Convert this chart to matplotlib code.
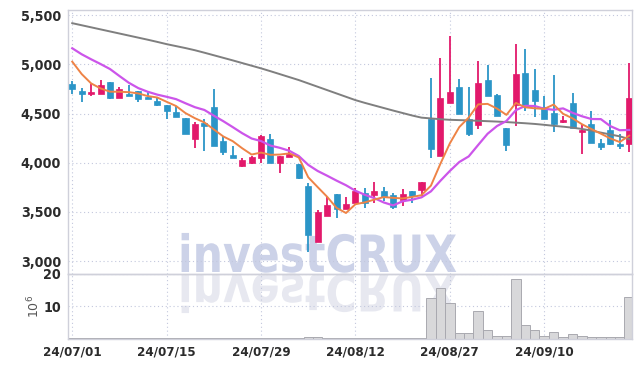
import numpy as np
import matplotlib
matplotlib.use('Agg')
import matplotlib.pyplot as plt
from matplotlib.patheffects import AbstractPathEffect
from matplotlib.transforms import Affine2D

# daily candles, trading days 24/07/01 .. 24/09/26
opens = [4800, 4730, 4700, 4700, 4820, 4660, 4695, 4730, 4670, 4625,
         4585, 4515, 4450, 4240, 4400, 4565, 4220, 4075, 3965, 3995,
         4050, 4240, 3995, 4060, 3985, 3760, 3190, 3455, 3685, 3525,
         3590, 3695, 3670, 3710, 3670, 3620, 3710, 3720, 4440, 4070,
         4610, 4765, 4440, 4385, 4840, 4685, 4355, 4585, 4910, 4735,
         4570, 4505, 4415, 4605, 4315, 4390, 4205, 4330, 4195, 4190]
highs = [4830, 4755, 4805, 4845, 4820, 4770, 4790, 4730, 4720, 4670,
         4585, 4575, 4450, 4410, 4440, 4745, 4270, 4170, 4050, 4065,
         4280, 4290, 4065, 4155, 3985, 3790, 3520, 3650, 3685, 3655,
         3745, 3740, 3800, 3755, 3695, 3735, 3710, 3805, 4865, 5060,
         5285, 4855, 4765, 5030, 4995, 4695, 4355, 5205, 5155, 4950,
         4675, 4890, 4475, 4710, 4395, 4525, 4245, 4430, 4295, 5010]
lows = [4700, 4615, 4680, 4700, 4650, 4660, 4680, 4615, 4650, 4580,
        4440, 4465, 4290, 4145, 4115, 4170, 4080, 4050, 3955, 3985,
        4000, 3995, 3900, 4060, 3835, 3095, 3190, 3455, 3440, 3525,
        3590, 3540, 3595, 3615, 3525, 3565, 3595, 3660, 4045, 4070,
        4610, 4495, 4275, 4345, 4680, 4475, 4115, 4370, 4525, 4460,
        4445, 4310, 4400, 4355, 4085, 4200, 4125, 4180, 4135, 4105]
closes = [4750, 4700, 4715, 4785, 4660, 4745, 4680, 4650, 4650, 4590,
          4525, 4465, 4290, 4390, 4375, 4170, 4110, 4050, 4030, 4055,
          4270, 3995, 4065, 4090, 3845, 3265, 3495, 3575, 3525, 3585,
          3710, 3590, 3715, 3655, 3545, 3680, 3665, 3805, 4140, 4655,
          4715, 4495, 4290, 4810, 4680, 4475, 4175, 4900, 4585, 4630,
          4445, 4395, 4430, 4355, 4330, 4200, 4160, 4190, 4170, 4655]

# moving averages as drawn (5, 10, 60 days)
ma5 = [5027, 4901, 4806, 4755, 4722, 4721, 4717, 4704, 4677, 4663,
       4619, 4576, 4504, 4452, 4409, 4338, 4267, 4219, 4147, 4083,
       4103, 4080, 4083, 4095, 4053, 3852, 3752, 3654, 3541, 3489,
       3578, 3597, 3625, 3651, 3643, 3637, 3652, 3670, 3767, 3989,
       4196, 4362, 4459, 4593, 4598, 4550, 4486, 4608, 4563, 4553,
       4547, 4591, 4497, 4451, 4391, 4342, 4295, 4247, 4210, 4275]
ma10 = [5163, 5102, 5051, 5003, 4952, 4881, 4812, 4758, 4721, 4692,
        4670, 4646, 4604, 4564, 4536, 4478, 4422, 4362, 4300, 4246,
        4220, 4174, 4151, 4121, 4068, 3978, 3916, 3868, 3818, 3771,
        3715, 3674, 3640, 3596, 3566, 3608, 3624, 3648, 3709, 3816,
        3916, 4007, 4064, 4180, 4294, 4373, 4424, 4534, 4578, 4576,
        4548, 4538, 4552, 4507, 4472, 4444, 4443, 4372, 4330, 4333]
ma60 = [5418, 5397, 5376, 5355, 5334, 5313, 5292, 5271, 5250, 5228,
        5205, 5185, 5165, 5143, 5118, 5092, 5066, 5040, 5013, 4986,
        4959, 4930, 4900, 4870, 4840, 4806, 4772, 4738, 4704, 4670,
        4636, 4608, 4582, 4556, 4530, 4505, 4480, 4458, 4450, 4442,
        4436, 4433, 4430, 4426, 4422, 4418, 4413, 4407, 4401, 4394,
        4385, 4375, 4366, 4356, 4343, 4326, 4306, 4287, 4268, 4240]

# volume, x 10^6
volume = [0.3, 0.3, 0.1, 0.15, 0.15, 0.1, 0.1, 0.1, 0.1, 0.1,
          0.1, 0.1, 0.15, 0.15, 0.2, 0.3, 0.15, 0.1, 0.1, 0.1,
          0.3, 0.15, 0.1, 0.1, 0.15, 0.4, 0.4, 0.15, 0.15, 0.1,
          0.1, 0.1, 0.1, 0.1, 0.1, 0.1, 0.1, 0.2, 12.4, 15.5,
          10.9, 1.6, 1.6, 8.4, 2.5, 0.8, 0.8, 18.3, 4.1, 2.5,
          0.9, 2.1, 0.5, 1.3, 0.8, 0.4, 0.4, 0.4, 0.4, 12.8]

tick_pos = [0, 10, 20, 30, 40, 50]
tick_labels = ['24/07/01', '24/07/15', '24/07/29', '24/08/12', '24/08/27', '24/09/10']
price_ticks = [3000, 3500, 4000, 4500, 5000, 5500]
vol_ticks = [10, 20]

UP = '#e2196b'
DOWN = '#2b95c7'
GRID = '#c3c8dd'
SPINE = '#cfd0da'
LBL = dict(family='DejaVu Sans', stretch='condensed', fontweight='bold')


class Squeeze(AbstractPathEffect):
    # narrows (and optionally mirrors) glyphs of a text about its baseline
    def __init__(self, sx=1.0, flip=False):
        super().__init__()
        self.sx = sx
        self.sy = -1.0 if flip else 1.0

    def draw_path(self, renderer, gc, tpath, affine, rgbFace=None):
        renderer.draw_path(gc, tpath, Affine2D().scale(self.sx, self.sy) + affine, rgbFace)


o = np.array(opens)
c = np.array(closes)
x = np.arange(len(o))
cols = [UP if cc >= oo else DOWN for oo, cc in zip(o, c)]

fig = plt.figure(figsize=(6.42, 3.67), dpi=100)
fig.patch.set_facecolor('white')

# watermark + reflection behind everything
fig.text(178 / 642, 1 - 272 / 367, 'investCRUX', fontsize=37, fontweight='bold',
         color='#ccd2e8', ha='left', va='baseline', zorder=-5,
         path_effects=[Squeeze(0.83)])
fig.text(178 / 642, 1 - 274 / 367, 'investCRUX', fontsize=37, fontweight='bold',
         color='#e7e8f0', ha='left', va='baseline', zorder=-5,
         path_effects=[Squeeze(0.83, flip=True)])

ax = fig.add_axes([68 / 642, 1 - 273.7 / 367, 564 / 642, 263.7 / 367])
axv = fig.add_axes([68 / 642, 1 - 338.5 / 367, 564 / 642, 64.8 / 367], sharex=ax)

for a in (ax, axv):
    a.set_facecolor('none')
    for s in a.spines.values():
        s.set_color(SPINE)
        s.set_linewidth(1.0)
    a.grid(True, color=GRID, linestyle=(0, (1, 2.5)), linewidth=0.8)
    a.set_axisbelow(True)
    a.tick_params(length=0, pad=5, labelcolor='#2b2b2b')

# candles
ax.vlines(x, lows, highs, colors=cols, linewidth=1.3, zorder=2)
ax.bar(x, np.abs(c - o), bottom=np.minimum(o, c), width=0.64, color=cols,
       edgecolor=cols, linewidth=0.5, zorder=3)

# moving averages
ax.plot(x, ma60, color='#7f7f7f', linewidth=1.4, zorder=4)
ax.plot(x, ma10, color='#cc55ea', linewidth=1.6, zorder=4)
ax.plot(x, ma5, color='#ee8346', linewidth=1.4, zorder=4)

ax.set_ylim(2872, 5552)
ax.set_yticks(price_ticks)
ax.set_yticklabels(['{:,}'.format(v) for v in price_ticks], fontsize=10.3, **LBL)
ax.tick_params(axis='x', labelbottom=False)

# volume
axv.bar(x, volume, width=1.0, color='#d8d8da', edgecolor='#a9a9b0', linewidth=0.7, zorder=2)
axv.set_ylim(0, 20)
axv.set_yticks(vol_ticks)
axv.set_yticklabels([str(v) for v in vol_ticks], fontsize=10.3, **LBL)
axv.set_ylabel('$10^6$', fontsize=9, color='#555555', labelpad=1)
axv.set_xticks(tick_pos)
axv.set_xticklabels(tick_labels, fontsize=9.5, **LBL)
axv.set_xlim(-0.45, 59.3)

fig.savefig('out.png', dpi=100, facecolor='white')
